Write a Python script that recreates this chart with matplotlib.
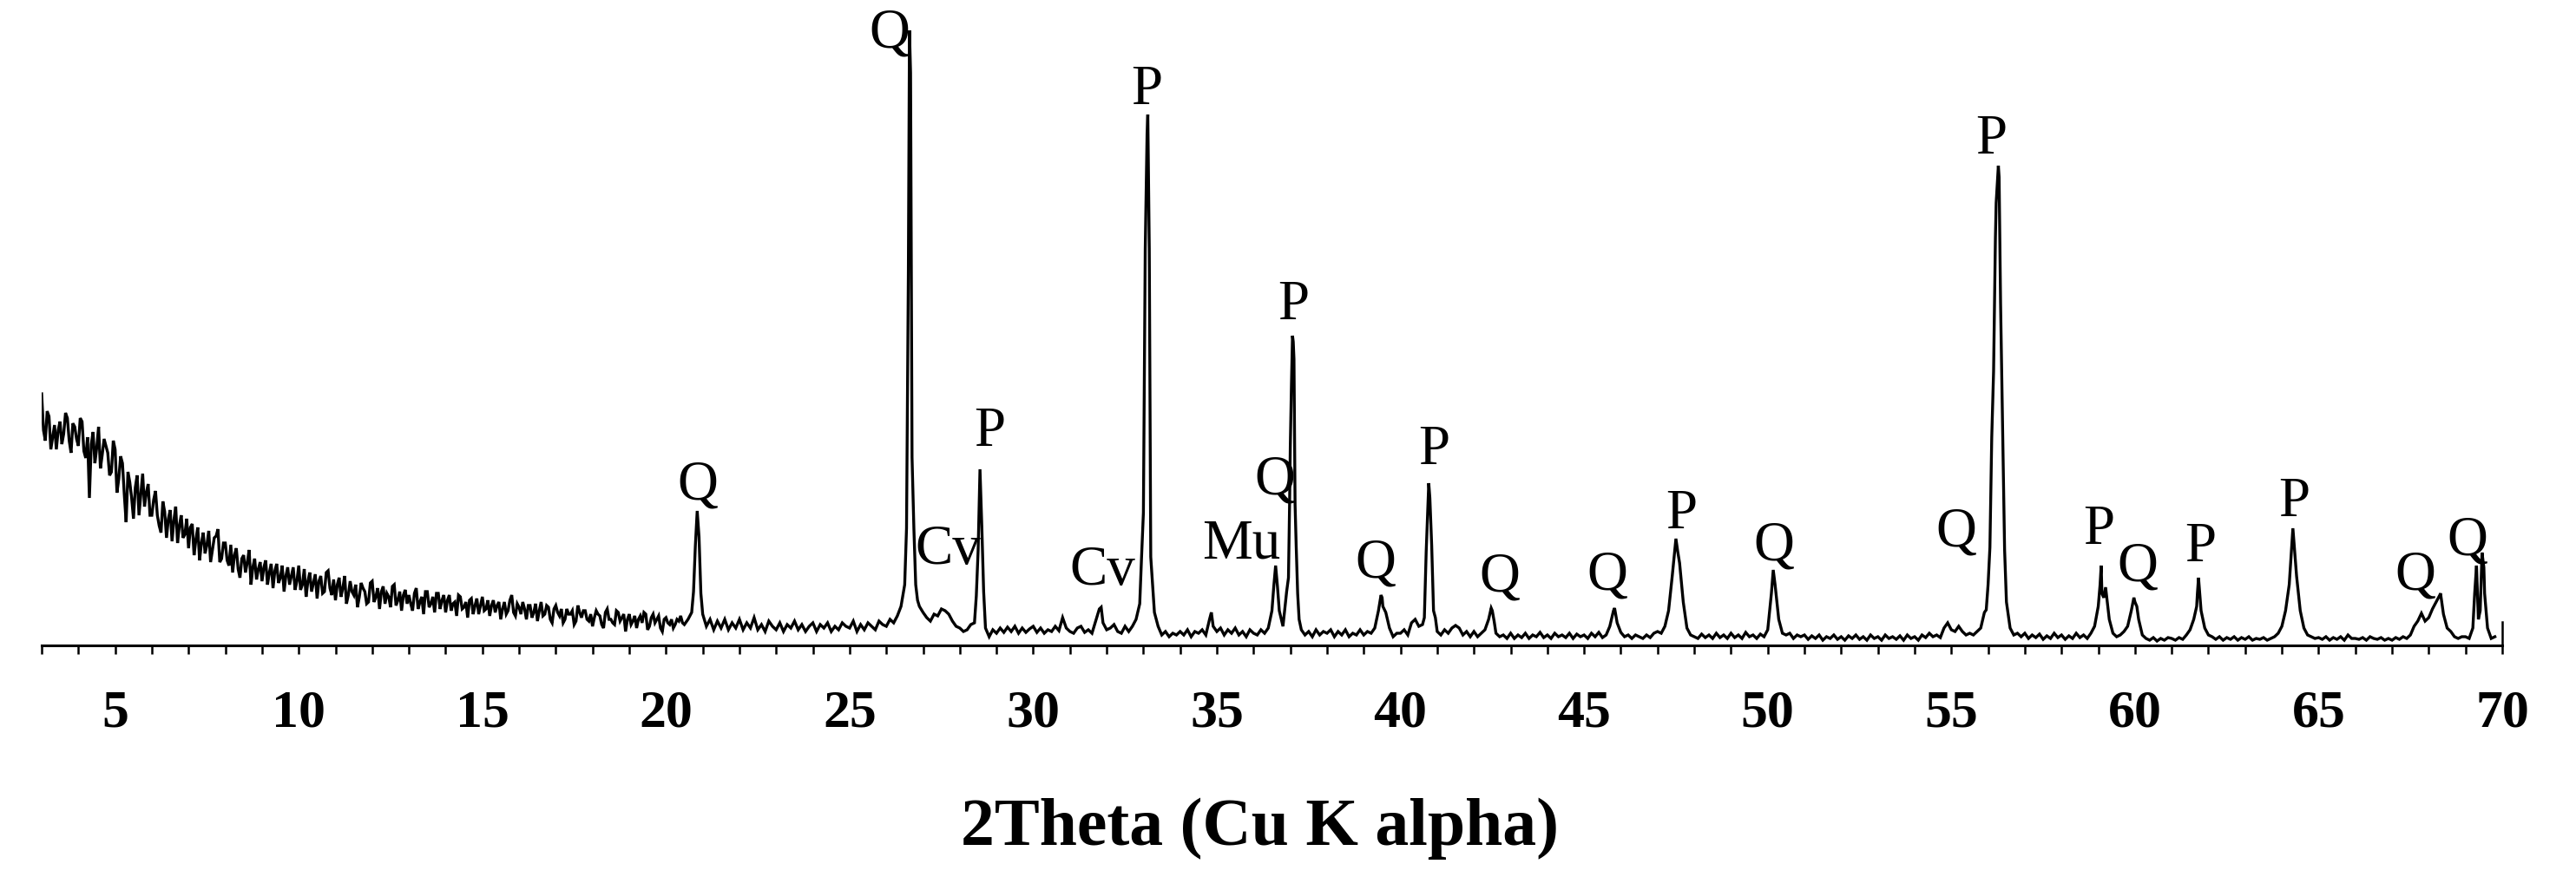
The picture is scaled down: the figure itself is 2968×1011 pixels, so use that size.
import numpy as np
import matplotlib
matplotlib.use("Agg")
import matplotlib.pyplot as plt
from matplotlib.ticker import MultipleLocator

# XRD scan, 3.0-69.8 deg 2theta, 0.1 deg step (intensity in arbitrary units)
scan_start = 3.0
scan_step = 0.1
scan_counts = [
    290, 236, 264, 240, 226, 258, 244, 262, 222, 252,   # 3
    230, 258, 216, 170, 246, 228, 204, 238, 222, 200,   # 4
    226, 192, 210, 142, 188, 146, 196, 174, 160, 186,   # 5
    150, 178, 138, 166, 124, 156, 144, 118, 150, 128,   # 6
    112, 140, 122, 98, 130, 116, 96, 124, 134, 100,     # 7
    118, 92, 84, 112, 78, 104, 96, 70, 100, 88,         # 8
    74, 98, 84, 66, 94, 78, 62, 90, 80, 64,             # 9
    92, 70, 56, 84, 72, 54, 80, 62, 86, 58,             # 10
    52, 78, 66, 48, 74, 58, 44, 72, 62, 50,             # 11
    74, 56, 42, 68, 60, 44, 70, 52, 40, 64,             # 12
    58, 40, 66, 50, 36, 62, 48, 38, 60, 52,             # 13
    38, 58, 48, 34, 56, 44, 32, 54, 46, 36,             # 14
    56, 42, 34, 52, 46, 30, 50, 40, 58, 34,             # 15
    44, 50, 30, 46, 38, 28, 50, 36, 44, 26,             # 16
    46, 34, 26, 42, 36, 24, 46, 32, 40, 28,             # 17
    22, 40, 34, 20, 42, 30, 24, 38, 32, 16,             # 18
    36, 28, 20, 34, 38, 18, 32, 26, 34, 16,             # 19
    32, 24, 20, 30, 34, 24, 30, 38, 115, 125,           # 20
    36, 22, 30, 18, 28, 20, 30, 18, 26, 20,             # 21
    30, 18, 26, 20, 32, 18, 24, 16, 28, 22,             # 22
    18, 26, 16, 24, 20, 28, 18, 24, 16, 22,             # 23
    26, 16, 24, 20, 26, 16, 22, 18, 26, 22,             # 24
    20, 28, 16, 24, 18, 26, 22, 18, 28, 24,             # 25
    22, 30, 26, 34, 45, 70, 431, 217, 70, 45,           # 26
    38, 32, 28, 36, 34, 42, 40, 36, 28, 22,             # 27
    20, 16, 18, 24, 26, 110, 137, 20, 10, 18,           # 28
    14, 20, 15, 21, 16, 22, 14, 20, 15, 19,             # 29
    22, 15, 20, 14, 18, 16, 22, 17, 32, 20,             # 30
    16, 14, 20, 22, 15, 18, 14, 28, 42, 26,             # 31
    18, 20, 24, 16, 14, 22, 16, 22, 30, 48,             # 32
    153, 590, 102, 38, 22, 12, 16, 10, 14, 12,          # 33
    16, 12, 18, 10, 16, 14, 18, 12, 30, 22,             # 34
    16, 20, 12, 18, 14, 20, 12, 16, 10, 18,             # 35
    14, 12, 18, 14, 20, 40, 92, 40, 22, 62,             # 36
    230, 330, 60, 18, 12, 16, 10, 18, 12, 16,           # 37
    14, 18, 10, 16, 12, 18, 10, 14, 12, 18,             # 38
    12, 16, 14, 20, 40, 55, 38, 20, 10, 14,             # 39
    14, 18, 12, 26, 30, 22, 24, 108, 170, 40,           # 40
    16, 12, 18, 14, 20, 23, 20, 12, 16, 10,             # 41
    16, 10, 14, 18, 30, 40, 14, 10, 12, 8,              # 42
    14, 8, 12, 9, 14, 8, 12, 10, 15, 9,                 # 43
    12, 8, 14, 10, 12, 9, 14, 8, 13, 10,                # 44
    12, 8, 14, 10, 15, 9, 12, 22, 40, 26,               # 45
    15, 10, 12, 8, 12, 10, 8, 12, 9, 14,                # 46
    16, 14, 22, 40, 80, 123, 95, 50, 20, 12,            # 47
    10, 8, 13, 9, 12, 8, 14, 9, 12, 8,                  # 48
    14, 9, 12, 8, 15, 10, 12, 8, 13, 10,                # 49
    18, 60, 70, 30, 14, 12, 14, 8, 12, 10,              # 50
    12, 7, 11, 8, 12, 6, 10, 8, 12, 7,                  # 51
    10, 6, 11, 8, 12, 7, 10, 6, 12, 8,                  # 52
    10, 6, 12, 8, 10, 7, 11, 6, 12, 8,                  # 53
    10, 6, 12, 9, 14, 10, 12, 9, 20, 26,                # 54
    18, 16, 22, 16, 12, 14, 12, 16, 20, 38,             # 55
    70, 240, 470, 540, 240, 50, 20, 12, 14, 10,         # 56
    14, 8, 12, 9, 13, 7, 11, 8, 14, 9,                  # 57
    12, 7, 11, 8, 14, 9, 12, 8, 14, 22,                 # 58
    45, 60, 67, 30, 14, 10, 12, 16, 22, 40,             # 59
    50, 30, 12, 8, 6, 9, 5, 8, 6, 9,                    # 60
    8, 6, 9, 7, 12, 18, 30, 60, 40, 20,                 # 61
    12, 10, 7, 10, 6, 9, 7, 10, 6, 9,                   # 62
    7, 10, 6, 8, 7, 9, 6, 8, 10, 14,                    # 63
    22, 40, 70, 135, 80, 40, 20, 12, 10, 8,             # 64
    9, 7, 10, 6, 9, 7, 10, 6, 12, 8,                    # 65
    8, 7, 9, 6, 10, 8, 7, 9, 6, 8,                      # 66
    6, 9, 7, 10, 8, 12, 22, 28, 37, 28,                 # 67
    32, 42, 50, 58, 36, 20, 16, 10, 8, 10,              # 68
    10, 8, 20, 92, 40, 90, 20, 8, 10,                   # 69
]

# low-angle part was read at the half steps too (3.05 ... 20.45)
half_step_counts = [
    248, 270, 226, 254, 248, 232, 268, 236, 256, 238,   # 3
    262, 224, 240, 232, 210, 252, 220, 230, 196, 236,   # 4
    176, 218, 174, 200, 170, 182, 150, 198, 176, 150,   # 5
    168, 150, 130, 154, 146, 120, 160, 138, 124, 146,   # 6
    136, 104, 136, 118, 106, 132, 110, 126, 96, 118,    # 7
    98, 116, 104, 88, 100, 84, 110, 90, 76, 96,         # 8
    90, 70, 94, 86, 72, 92, 80, 70, 90, 74,             # 9
    64, 88, 74, 62, 82, 74, 60, 84, 66, 76,             # 10
    70, 56, 80, 58, 62, 70, 56, 66, 48, 72,             # 11
    50, 66, 62, 48, 56, 68, 46, 62, 58, 48,             # 12
    48, 60, 42, 56, 62, 44, 56, 60, 42, 58,             # 13
    52, 40, 50, 58, 42, 50, 52, 36, 54, 46,             # 14
    40, 52, 46, 38, 50, 42, 36, 52, 38, 48,             # 15
    36, 42, 46, 32, 48, 40, 34, 46, 30, 42,             # 16
    38, 42, 30, 36, 40, 28, 38, 40, 30, 36,             # 17
    32, 36, 24, 38, 30, 26, 40, 28, 36, 30,             # 18
    24, 34, 30, 26, 36, 22, 36, 30, 20, 30,             # 19
    26, 30, 24, 28, 26,                                 # 20
]

# extra points (between scan steps)
peak_theta = [20.75, 20.85, 20.95, 26.55, 26.63, 26.66, 26.75, 26.85,
              28.45, 28.55, 28.65, 31.85, 32.95, 33.05, 33.12, 33.16,
              34.85, 36.55, 36.65, 36.95, 36.98, 37.03, 37.06, 37.08,
              37.13, 37.16, 37.24, 39.47, 39.52, 40.65, 40.77, 40.85,
              40.95, 42.47, 42.55, 45.83, 47.45, 47.55, 50.15, 55.95,
              56.05, 56.15, 56.22, 56.28, 56.34, 56.45, 59.05, 59.08,
              59.15, 59.97, 60.05, 61.68, 61.73, 64.25, 64.36, 68.32,
              69.25, 69.35, 69.45, 69.52]
peak_counts = [62, 155, 60, 135, 709, 660, 135, 52,
               57, 203, 62, 44, 102, 457, 612, 457,
               38, 68, 68, 78, 162, 298, 357, 350,
               162, 115, 30, 58, 45, 32, 187, 115,
               32, 43, 28, 43, 102, 108, 87, 41,
               113, 316, 510, 553, 395, 110, 70, 92,
               55, 55, 45, 45, 78, 102, 102, 60,
               60, 30, 107, 60]

# phase labels: Q quartz, P periclase, Cv, Mu
label_text = ['Q', 'Q', 'Cv', 'P', 'Cv', 'P', 'Mu', 'Q', 'P', 'Q', 'P', 'Q',
              'Q', 'P', 'Q', 'Q', 'P', 'P', 'Q', 'P', 'P', 'Q', 'Q']
label_theta = [20.86, 26.08, 27.68, 28.82, 31.89, 33.10, 35.67, 36.57, 37.09,
               39.33, 40.92, 42.69, 45.64, 47.65, 50.16, 55.12, 56.09, 59.02,
               60.08, 61.78, 64.33, 67.64, 69.04]
label_height = [170, 691, 95, 231, 71, 625, 101, 175, 377, 80, 210, 63,
                65, 136, 100, 115, 568, 118, 75, 98, 150, 66, 105]

tick_labels = ['5', '10', '15', '20', '25', '30', '35', '40', '45', '50',
               '55', '60', '65', '70']

SERIF = 'Liberation Serif'

grid_theta = scan_start + scan_step * np.arange(len(scan_counts))
half_theta = scan_start + scan_step / 2 + scan_step * np.arange(len(half_step_counts))
theta = np.concatenate([grid_theta, half_theta, peak_theta])
counts = np.concatenate([scan_counts, half_step_counts, peak_counts])
order = np.argsort(theta, kind='stable')
theta, counts = theta[order], counts[order]

fig = plt.figure(figsize=(29.68, 10.12), dpi=100)
fig.patch.set_facecolor('white')
ax = fig.add_axes([48 / 2968, 267 / 1012, 2835 / 2968, 725 / 1012])

ax.plot(theta, counts, color='black', linewidth=2.4, solid_joinstyle='miter')

for t, x, y in zip(label_text, label_theta, label_height):
    ax.text(x, y, t, ha='center', va='baseline', fontsize=46.8, family=SERIF,
            color='black')

ax.set_xlim(3, 70)
ax.set_ylim(0, 725)

for side in ('top', 'left'):
    ax.spines[side].set_visible(False)
ax.spines['bottom'].set_linewidth(2.2)
ax.spines['right'].set_linewidth(1.8)
ax.spines['right'].set_bounds(0, 27)

ax.set_xticks([int(t) for t in tick_labels])
ax.set_xticklabels(tick_labels, fontsize=44.6, fontweight='bold', family=SERIF)
ax.xaxis.set_minor_locator(MultipleLocator(1))
ax.tick_params(axis='x', which='both', direction='out', length=7.5, width=1.8,
               pad=28, colors='black')
ax.tick_params(axis='y', which='both', left=False, labelleft=False)

ax.set_xlabel('2Theta (Cu K alpha)', fontsize=56, fontweight='bold', family=SERIF)
ax.xaxis.set_label_coords(0.495, -0.241)

fig.savefig('out.png', dpi=100, facecolor='white')
plt.close(fig)
